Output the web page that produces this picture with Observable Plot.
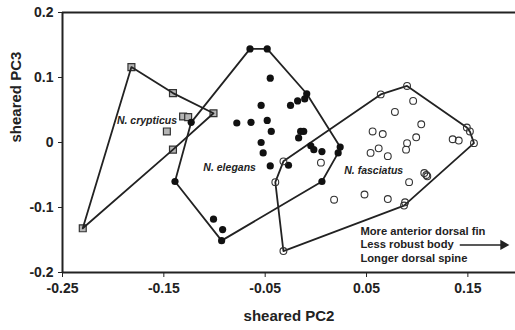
<!DOCTYPE html>
<html>
<head>
<meta charset="utf-8">
<script src="https://cdn.jsdelivr.net/npm/d3@7"></script>
<script src="https://cdn.jsdelivr.net/npm/@observablehq/plot@0.6"></script>
<style>
  html, body { margin: 0; padding: 0; background: #fff; }
  #chart svg { display: block; }
</style>
</head>
<body>
<div id="chart"></div>
<script>
// N. crypticus (grey squares)
const crypX = [-0.182, -0.141, -0.101, -0.131, -0.126, -0.147, -0.141, -0.230];
const crypY = [0.116, 0.076, 0.045, 0.040, 0.039, 0.017, -0.011, -0.132];
const crypHull = [0, 1, 2, 6, 7, 0];

// N. elegans (filled circles)
const elegX = [-0.123, -0.139, -0.101, -0.092, -0.093, -0.065, -0.048, -0.045, -0.009, -0.011,
               -0.018, -0.025, -0.054, -0.078, -0.064, -0.048, -0.044, -0.015, -0.012, -0.017,
               -0.054, -0.052, -0.045, -0.027, -0.005, -0.002, 0.006, 0.024, 0.022, 0.006];
const elegY = [0.031, -0.060, -0.118, -0.134, -0.151, 0.144, 0.144, 0.099, 0.075, 0.067,
               0.064, 0.057, 0.057, 0.030, 0.031, 0.034, 0.017, 0.017, 0.017, 0.007,
               0.000, -0.016, -0.036, -0.035, -0.005, -0.011, -0.014, -0.007, -0.016, -0.060];
const elegHull = [0, 5, 6, 8, 27, 28, 29, 4, 1, 0];

// N. fasciatus (open circles)
const fascX = [-0.032, -0.040, -0.032, 0.087, 0.088, 0.156, 0.152, 0.149, 0.090, 0.064,
               0.096, 0.078, 0.104, 0.056, 0.066, 0.099, 0.090, 0.089, 0.135, 0.141,
               0.054, 0.062, 0.071, 0.005, 0.107, 0.110, 0.109, 0.092, 0.018, 0.048, 0.071];
const fascY = [-0.029, -0.061, -0.167, -0.097, -0.092, -0.001, 0.017, 0.023, 0.087, 0.074,
               0.064, 0.047, 0.028, 0.017, 0.013, 0.008, -0.001, -0.011, 0.005, 0.003,
               -0.016, -0.009, -0.021, -0.031, -0.047, -0.052, -0.050, -0.061, -0.088, -0.080, -0.087];
const fascHull = [0, 9, 8, 7, 6, 5, 3, 2, 1, 0];

// labels
const speciesNames = ["N. crypticus", "N. elegans", "N. fasciatus"];
const speciesLabelX = [-0.137, -0.111, 0.028];
const speciesLabelY = [0.033, -0.038, -0.044];

const noteLines = ["More anterior dorsal fin", "Less robust body", "Longer dorsal spine"];
const noteX = 0.044;
const noteY = [-0.1365, -0.1575, -0.179];
const arrowX = [0.142, 0.185];
const arrowY = -0.1575;

const xTicks = [-0.25, -0.15, -0.05, 0.05, 0.15];
const yTicks = [-0.2, -0.1, 0, 0.1, 0.2];
const xLabel = "sheared PC2";
const yLabel = "sheared PC3";

const toPts = (xs, ys) => xs.map((x, i) => ({x, y: ys[i]}));
const crypt = toPts(crypX, crypY);
const eleg = toPts(elegX, elegY);
const fasc = toPts(fascX, fascY);
const hull = (pts, idx) => idx.map(i => pts[i]);
const labels = speciesNames.map((t, i) => ({t, x: speciesLabelX[i], y: speciesLabelY[i]}));
const notes = noteLines.map((t, i) => ({t, x: noteX, y: noteY[i]}));

const ink = "#222";
const fmt = d => (d === 0 ? "0" : String(d));
const labelStyle = {x: "x", y: "y", text: "t", fontSize: 10.5, fontWeight: "bold", fontStyle: "italic", fill: ink};

const chart = Plot.plot({
  width: 515,
  height: 330,
  marginTop: 12,
  marginLeft: 62,
  marginRight: 0,
  marginBottom: 58,
  style: {fontFamily: "'Liberation Sans', Arial, sans-serif", background: "#fff", color: ink},
  x: {domain: [-0.25, 0.197]},
  y: {domain: [-0.2, 0.2]},
  marks: [
    // frame
    Plot.ruleY([0.2, -0.2], {stroke: ink, strokeWidth: 2}),
    Plot.ruleX([-0.25], {stroke: ink, strokeWidth: 2}),
    Plot.axisX({ticks: xTicks, tickFormat: fmt, tickSize: 5, tickPadding: 6, fontSize: 14, fontWeight: "bold", stroke: ink,
      label: null}),
    Plot.axisY({ticks: yTicks, tickFormat: fmt, tickSize: 4, tickPadding: 5, fontSize: 14, fontWeight: "bold", stroke: ink,
      label: null}),
    Plot.text([xLabel], {frameAnchor: "bottom", dy: 48, fontSize: 15, fontWeight: "bold", fill: ink}),
    Plot.text([yLabel], {frameAnchor: "left", dx: -46, rotate: -90, fontSize: 15, fontWeight: "bold", fill: ink}),
    // crypticus squares (under lines)
    Plot.dot(crypt, {x: "x", y: "y", symbol: "square", r: 3.9, fill: "#b5b5b5", stroke: "#333", strokeWidth: 1.2}),
    // hulls
    Plot.line(hull(crypt, crypHull), {x: "x", y: "y", stroke: ink, strokeWidth: 1.8}),
    Plot.line(hull(eleg, elegHull), {x: "x", y: "y", stroke: ink, strokeWidth: 1.8}),
    Plot.line(hull(fasc, fascHull), {x: "x", y: "y", stroke: ink, strokeWidth: 1.8}),
    // points
    Plot.dot(eleg, {x: "x", y: "y", r: 3.6, fill: "#111", stroke: "none"}),
    Plot.dot(fasc, {x: "x", y: "y", r: 3.4, fill: "none", stroke: "#333", strokeWidth: 1.1}),
    // species labels
    Plot.text(labels.slice(0, 1), {...labelStyle, textAnchor: "end"}),
    Plot.text(labels.slice(1), {...labelStyle, textAnchor: "start"}),
    // annotation
    Plot.text(notes, {x: "x", y: "y", text: "t", textAnchor: "start", fontSize: 11.2, fontWeight: "bold", fill: ink}),
    Plot.link([0], {x1: arrowX[0], x2: arrowX[1], y1: arrowY, y2: arrowY, stroke: ink, strokeWidth: 1.5}),
    Plot.dot([0], {x: arrowX[1], y: arrowY, symbol: "triangle2", rotate: 90, r: 5, fill: ink, stroke: "none"})
  ]
});
document.getElementById("chart").appendChild(chart);
</script>
</body>
</html>
